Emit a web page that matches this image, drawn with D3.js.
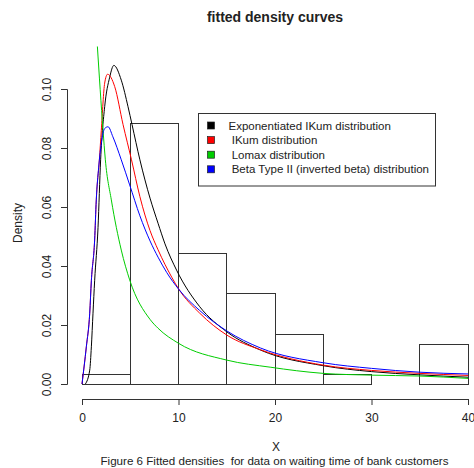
<!DOCTYPE html>
<html>
<head>
<meta charset="utf-8">
<script src="https://cdn.jsdelivr.net/npm/d3@7"></script>
<style>
  body { margin: 0; background: #fff; }
  text { font-family: "Liberation Sans", Arial, sans-serif; fill: #222; }
</style>
</head>
<body>
<script>
// histogram (bin edges + density heights)
var binEdges = [0, 5, 10, 15, 20, 25, 30, 35, 40]
var binDensity = [0.0033, 0.0883, 0.0444, 0.0307, 0.0167, 0.0033, 0, 0.0133]

// fitted curves
var expIkumX = [0.35, 0.8, 0.97, 1.14, 1.31, 1.66, 1.93, 2.35, 2.87, 3.3, 4.07, 4.77, 5.18, 6.0, 7.05, 7.88, 8.6, 9.8, 12.2, 15, 18.5, 25, 30, 35, 40]
var expIkumY = [0, 0.0047, 0.0126, 0.024, 0.035, 0.053, 0.076, 0.094, 0.104, 0.108, 0.103, 0.094, 0.088, 0.076, 0.063, 0.0545, 0.0475, 0.0386, 0.0262, 0.0177, 0.0115, 0.0062, 0.0042, 0.0031, 0.0023]

var ikumX = [0, 0.45, 0.8, 0.97, 1.31, 1.48, 1.8, 2.0, 2.35, 2.65, 3.39, 4.25, 5.13, 6.0, 7.05, 7.88, 9.3, 10, 12.2, 15, 18.5, 25, 30, 35, 40]
var ikumY = [0, 0.0126, 0.024, 0.035, 0.0488, 0.0624, 0.076, 0.086, 0.102, 0.105, 0.1008, 0.088, 0.076, 0.0635, 0.052, 0.0455, 0.0362, 0.0323, 0.024, 0.0166, 0.0116, 0.0064, 0.0046, 0.0036, 0.0029]

var lomaxX = [1.59, 2.18, 2.42, 3.04, 4.07, 4.94, 7.05, 7.88, 10, 15, 19.5, 25, 30, 35, 40]
var lomaxY = [0.1146, 0.086, 0.076, 0.0624, 0.0454, 0.0353, 0.0219, 0.0189, 0.0138, 0.0081, 0.0057, 0.0036, 0.003, 0.0027, 0.0019]

var betaX = [0, 0.45, 0.8, 0.97, 1.31, 1.48, 1.73, 2.0, 2.35, 2.7, 3.2, 4.07, 4.94, 6.0, 7.05, 7.88, 8.78, 10, 12.2, 15, 18.5, 25, 30, 35, 40]
var betaY = [0, 0.0126, 0.024, 0.035, 0.0488, 0.0624, 0.0735, 0.0816, 0.0866, 0.0872, 0.0838, 0.076, 0.0675, 0.057, 0.0485, 0.043, 0.0378, 0.0322, 0.0249, 0.018, 0.0122, 0.0072, 0.0053, 0.004, 0.0034]

var legendLabels = ["Exponentiated IKum distribution", " IKum distribution", " Lomax distribution", " Beta Type II (inverted beta) distribution"]
var legendColors = ["#000000", "#ff0000", "#00cd00", "#0000ff"]

var xTicks = [0, 10, 20, 30, 40]
var yTicks = [0, 0.02, 0.04, 0.06, 0.08, 0.10]

var W = 474, H = 468
var svg = d3.select("body").append("svg")
  .attr("width", W)
  .attr("height", H)

var x = d3.scaleLinear().domain([0, 40]).range([82, 468])
var y = d3.scaleLinear().domain([0, 0.1]).range([384, 89])

// plot region (R style, 4% extension)
var plotTop = y(0.1144), plotBottom = y(-0.0044)
svg.append("defs").append("clipPath").attr("id", "plotclip")
  .append("rect")
  .attr("x", x(-1.6)).attr("y", plotTop)
  .attr("width", W - x(-1.6)).attr("height", plotBottom - plotTop)

// histogram
var bars = svg.append("g")
bars.selectAll("rect")
  .data(binDensity)
  .join("rect")
  .attr("x", function(d, i) { return x(binEdges[i]) })
  .attr("y", function(d) { return y(d) })
  .attr("width", function(d, i) { return x(binEdges[i + 1]) - x(binEdges[i]) })
  .attr("height", function(d) { return y(0) - y(d) })
  .attr("fill", "none")
  .attr("stroke", "#333")
  .attr("stroke-width", 1)
  .attr("shape-rendering", "crispEdges")

// curves
var curves = [
  { xs: expIkumX, ys: expIkumY, col: legendColors[0] },
  { xs: ikumX, ys: ikumY, col: legendColors[1] },
  { xs: lomaxX, ys: lomaxY, col: legendColors[2] },
  { xs: betaX, ys: betaY, col: legendColors[3] }
]
var line = d3.line()
  .x(function(d) { return x(d[0]) })
  .y(function(d) { return y(d[1]) })
  .curve(d3.curveMonotoneX)

var cg = svg.append("g").attr("clip-path", "url(#plotclip)")
curves.forEach(function(c) {
  var pts = c.xs.map(function(v, i) { return [v, c.ys[i]] })
  cg.append("path")
    .attr("d", line(pts))
    .attr("fill", "none")
    .attr("stroke", c.col)
    .attr("stroke-width", 1)
})

// axes
var yAxis = svg.append("g")
  .attr("transform", "translate(67,0)")
  .call(d3.axisLeft(y).tickValues(yTicks).tickFormat(d3.format(".2f")).tickSizeOuter(0).tickSize(6).tickPadding(0))
yAxis.selectAll("text").remove()
yAxis.selectAll(".tick").append("text")
  .attr("transform", "translate(-16,0) rotate(-90)")
  .attr("text-anchor", "middle")
  .attr("font-size", 12)
  .text(function(d) { return d3.format(".2f")(d) })

var xAxis = svg.append("g")
  .attr("transform", "translate(0,399)")
  .call(d3.axisBottom(x).tickValues(xTicks).tickSizeOuter(0).tickSize(6))
xAxis.selectAll("text").remove()
xAxis.selectAll(".tick").append("text")
  .attr("y", 23)
  .attr("text-anchor", "middle")
  .attr("font-size", 12)
  .text(function(d) { return d })

svg.selectAll(".domain, .tick line").attr("stroke", "#333")
svg.selectAll(".tick text").attr("fill", "#222").attr("font-family", "Liberation Sans, Arial, sans-serif")

// titles
svg.append("text")
  .attr("x", 275).attr("y", 22)
  .attr("text-anchor", "middle")
  .attr("font-weight", "bold")
  .attr("font-size", 14)
  .text("fitted density curves")

svg.append("text")
  .attr("transform", "translate(22,223) rotate(-90)")
  .attr("text-anchor", "middle")
  .attr("font-size", 12)
  .text("Density")

svg.append("text")
  .attr("x", 276).attr("y", 451)
  .attr("text-anchor", "middle")
  .attr("font-size", 12)
  .text("X")

svg.append("text")
  .attr("x", 274.5).attr("y", 465)
  .attr("text-anchor", "middle")
  .attr("font-size", 11.6)
  .style("white-space", "pre")
  .text("Figure 6 Fitted densities  for data on waiting time of bank customers")

// legend
var lg = svg.append("g")
lg.append("rect")
  .attr("x", 198.5).attr("y", 113.5)
  .attr("width", 237).attr("height", 72.5)
  .attr("fill", "#fff")
  .attr("stroke", "#333")

var rows = lg.selectAll(".row")
  .data(legendLabels)
  .join("g")
  .attr("transform", function(d, i) { return "translate(0," + (125.5 + i * 14.6) + ")" })
rows.append("rect")
  .attr("x", 207.5).attr("y", -3.5)
  .attr("width", 7).attr("height", 7)
  .attr("fill", function(d, i) { return legendColors[i] })
  .attr("stroke", "#222")
  .attr("stroke-width", 0.7)
rows.append("text")
  .attr("x", 228.5).attr("y", 4)
  .attr("font-size", 11.5)
  .style("white-space", "pre")
  .text(function(d) { return d })
</script>
</body>
</html>
